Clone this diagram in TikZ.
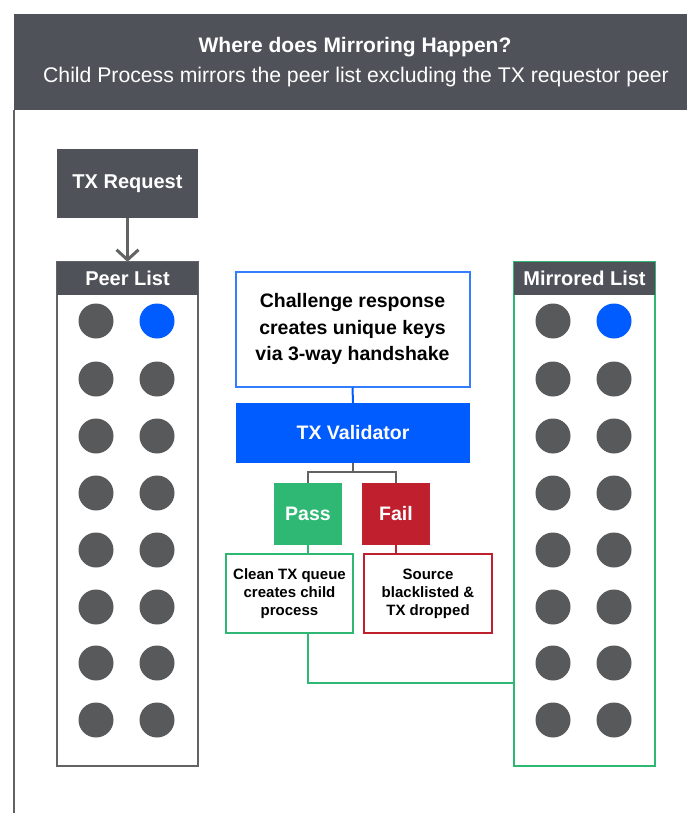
\documentclass[tikz,border=0pt]{standalone}
\usepackage{fontspec}
\setmainfont{Liberation Sans}
\usetikzlibrary{arrows.meta}

\definecolor{darkgray}{HTML}{4F5259}
\definecolor{dotgray}{HTML}{58595B}
\definecolor{linegray}{HTML}{626365}
\definecolor{valblue}{HTML}{005CFF}
\definecolor{passgreen}{HTML}{2EB874}
\definecolor{failred}{HTML}{C01F2E}

\tikzset{
  darkbox/.style={fill=darkgray,text=white,font=\bfseries\fontsize{20}{24}\selectfont,inner sep=0pt},
  listframe/.style={draw=linegray,line width=2pt,fill=white,inner sep=0pt},
  peer/.style={circle,fill=dotgray,minimum size=35pt,inner sep=0pt},
  peerblue/.style={peer,fill=valblue},
  infobox/.style={draw,fill=white,line width=2pt,align=center,inner sep=0pt,font=\bfseries\fontsize{15}{18}\selectfont},
  resultbox/.style={text=white,font=\bfseries\fontsize{19.5}{23}\selectfont,minimum width=68pt,minimum height=62pt,inner sep=0pt}
}

\begin{document}
\begin{tikzpicture}[x=1pt,y=-1pt]
            \useasboundingbox (0,0) rectangle (687,813);
            \fill[white] (0,0) rectangle (687,813);

            \node[fill=darkgray,minimum width=673pt,minimum height=96pt,inner sep=0pt] (head) at (350.5,62) {};
            \node[text=white,font=\bfseries\fontsize{21}{24}\selectfont] (title) at (355,47) {Where does Mirroring Happen?};
            \node[text=white,font=\fontsize{21.2}{24}\selectfont] (subtitle) at (356,77) {Child Process mirrors the peer list excluding the TX requestor peer};
            \draw[linegray,line width=1.5pt] (14,110) -- (14,813);

            \node[darkbox,minimum width=141pt,minimum height=69pt] (txreq) at (127.5,183.5) {TX Request};

            \node[listframe,minimum width=141pt,minimum height=504pt] (plist) at (127.5,514) {};
            \node[darkbox,minimum width=141pt,minimum height=33pt] (phead) at (127.5,278.5) {Peer List};
            \draw[-{Straight Barb[length=10pt,width=22pt,line width=3pt]},linegray,line width=3.5pt] (txreq.south) -- (phead.north);

            \node[peer] (p1a) at ( 96,321) {};
            \node[peerblue] (p1b) at (157,321) {};
            \node[peer] (p2a) at ( 96,379) {};
            \node[peer] (p2b) at (157,379) {};
            \node[peer] (p3a) at ( 96,436) {};
            \node[peer] (p3b) at (157,436) {};
            \node[peer] (p4a) at ( 96,493) {};
            \node[peer] (p4b) at (157,493) {};
            \node[peer] (p5a) at ( 96,550) {};
            \node[peer] (p5b) at (157,550) {};
            \node[peer] (p6a) at ( 96,607) {};
            \node[peer] (p6b) at (157,607) {};
            \node[peer] (p7a) at ( 96,663) {};
            \node[peer] (p7b) at (157,663) {};
            \node[peer] (p8a) at ( 96,720) {};
            \node[peer] (p8b) at (157,720) {};

            \node[listframe,draw=passgreen,minimum width=141pt,minimum height=504pt] (mlist) at (584.5,514) {};
            \node[darkbox,minimum width=141pt,minimum height=33pt] (mhead) at (584.5,278.5) {Mirrored List};

            \node[peer] (m1a) at (553,321) {};
            \node[peerblue] (m1b) at (614,321) {};
            \node[peer] (m2a) at (553,379) {};
            \node[peer] (m2b) at (614,379) {};
            \node[peer] (m3a) at (553,436) {};
            \node[peer] (m3b) at (614,436) {};
            \node[peer] (m4a) at (553,493) {};
            \node[peer] (m4b) at (614,493) {};
            \node[peer] (m5a) at (553,550) {};
            \node[peer] (m5b) at (614,550) {};
            \node[peer] (m6a) at (553,607) {};
            \node[peer] (m6b) at (614,607) {};
            \node[peer] (m7a) at (553,663) {};
            \node[peer] (m7b) at (614,663) {};
            \node[peer] (m8a) at (553,720) {};
            \node[peer] (m8b) at (614,720) {};

            \node[infobox,draw=valblue!80,minimum width=234pt,minimum height=115pt,font=\bfseries\fontsize{19.5}{26.5}\selectfont] (chal) at (352.5,329) {Challenge response\\creates unique keys\\via 3-way handshake};
            \node[fill=valblue,text=white,minimum width=234pt,minimum height=60pt,inner sep=0pt,font=\bfseries\fontsize{19.5}{23}\selectfont] (valid) at (353,433) {TX Validator};
            \draw[valblue,line width=2pt] (chal.south) -- (valid.north);

            \node[resultbox,fill=passgreen] (pass) at (308,514) {Pass};
            \node[resultbox,fill=failred] (fail) at (396,514) {Fail};
            \draw[linegray,line width=2pt] (valid.south) -- ++(0,9) -| (pass.north);
            \draw[linegray,line width=2pt] (valid.south) -- ++(0,9) -| (fail.north);

            \node[infobox,draw=passgreen,minimum width=127pt,minimum height=79pt] (clean) at (289.5,593.5) {Clean TX queue\\creates child\\process};
            \node[infobox,draw=failred,minimum width=128pt,minimum height=79pt] (source) at (428,593.5) {Source\\blacklisted \&\\TX dropped};
            \draw[passgreen,line width=2pt] (pass.south) -- (pass.south |- clean.north);
            \draw[failred,line width=2pt] (fail.south) -- (fail.south |- source.north);

            \coordinate (mjoin) at (mlist.west |- 0,683);
            \draw[passgreen,line width=2pt] (pass.south |- clean.south) |- (mjoin);
          \end{tikzpicture}
\end{document}
